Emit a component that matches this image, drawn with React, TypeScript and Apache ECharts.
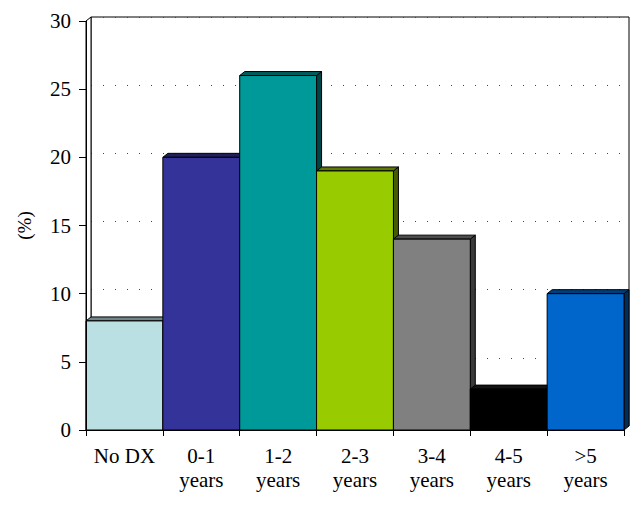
import React, { useEffect, useRef } from "react";
import * as echarts from "echarts";

const categories = ["No DX", "0-1\nyears", "1-2\nyears", "2-3\nyears", "3-4\nyears", "4-5\nyears", ">5\nyears"];
const values = [8, 20, 26, 19, 14, 3, 10];
const barColors = ["#BBE0E3", "#333399", "#009999", "#99CC00", "#808080", "#000000", "#0066CC"];
const yTicks = [0, 5, 10, 15, 20, 25, 30];

const DX = 5;
const DY = 4;

function shade(hex: string, f: number): string {
  const n = parseInt(hex.slice(1), 16);
  const r = Math.round(((n >> 16) & 255) * f);
  const g = Math.round(((n >> 8) & 255) * f);
  const b = Math.round((n & 255) * f);
  return `rgb(${r},${g},${b})`;
}

export default function App() {
  const ref = useRef<HTMLDivElement>(null);
  useEffect(() => {
    if (!ref.current) return;
    const chart = echarts.init(ref.current, undefined, { renderer: "svg" });
    const font = "serif";
    const option: any = {
      animation: false,
      backgroundColor: "#ffffff",
      textStyle: { fontFamily: font },
      grid: [
        { left: 86, top: 21, width: 538, height: 409, containLabel: false },
        { left: 86 + DX, top: 21 - DY, width: 538, height: 409, show: true, borderColor: "#000", borderWidth: 1, backgroundColor: "transparent" },
      ],
      xAxis: [
        {
          type: "category",
          gridIndex: 0,
          data: categories,
          boundaryGap: true,
          axisLine: { show: true, lineStyle: { color: "#000", width: 1 } },
          axisTick: { show: true, length: 6, lineStyle: { color: "#000" } },
          axisLabel: { color: "#000", fontSize: 21, lineHeight: 24, margin: 14, fontFamily: font, interval: 0 },
          splitLine: { show: false },
          z: 5,
        },
        {
          type: "category",
          gridIndex: 1,
          data: categories,
          show: false,
        },
      ],
      yAxis: [
        {
          type: "value",
          gridIndex: 0,
          min: 0,
          max: 30,
          interval: 5,
          name: "(%)",
          nameLocation: "middle",
          nameGap: 52,
          nameRotate: 90,
          nameTextStyle: { color: "#000", fontSize: 19, fontFamily: font },
          axisLine: { show: true, lineStyle: { color: "#000", width: 1 } },
          axisTick: { show: true, length: 7, lineStyle: { color: "#000" } },
          axisLabel: { color: "#000", fontSize: 21, margin: 15, fontFamily: font, formatter: (v: number) => (yTicks.includes(v) ? String(v) : "") },
          splitLine: { show: false },
          z: 5,
        },
        {
          type: "value",
          gridIndex: 1,
          min: 0,
          max: 30,
          interval: 5,
          axisLine: { show: false },
          axisTick: { show: false },
          axisLabel: { show: false },
          splitLine: { show: true, lineStyle: { color: "#444", width: 1, type: [1, 11] } },
        },
      ],
      series: [
        {
          type: "custom",
          xAxisIndex: 0,
          yAxisIndex: 0,
          clip: false,
          z: 3,
          data: values.map((v, i) => [i, v]),
          renderItem: (params: any, api: any) => {
            const i = api.value(0);
            const v = api.value(1);
            const top = api.coord([i, v]);
            const base = api.coord([i, 0]);
            const w = api.size([1, 0])[0];
            const x0 = top[0] - w / 2;
            const x1 = top[0] + w / 2;
            const yT = top[1];
            const yB = base[1];
            const col = barColors[params.dataIndex];
            const dark = col === "#000000" ? "#202020" : col;
            const stroke = { stroke: "#000", lineWidth: 1 };
            const children: any[] = [];
            if (params.dataIndex === 0) {
              const yMax = api.coord([i, 30])[1];
              children.push({
                type: "polygon",
                shape: { points: [[x0, yMax], [x0 + DX, yMax - DY], [x0 + DX, yB - DY], [x0, yB]] },
                style: { fill: "#fff", ...stroke },
              });
            }
            children.push({
              type: "polygon",
              shape: { points: [[x1, yT], [x1 + DX, yT - DY], [x1 + DX, yB - DY], [x1, yB]] },
              style: { fill: shade(dark, 0.45), ...stroke },
            });
            children.push({
              type: "polygon",
              shape: { points: [[x0, yT], [x0 + DX, yT - DY], [x1 + DX, yT - DY], [x1, yT]] },
              style: { fill: shade(dark, 0.6), ...stroke },
            });
            children.push({
              type: "rect",
              shape: { x: x0, y: yT, width: w, height: yB - yT },
              style: { fill: col, ...stroke },
            });
            return { type: "group", children };
          },
        },
      ],
    };
    chart.setOption(option);
    return () => chart.dispose();
  }, []);
  return <div ref={ref} style={{ position: "fixed", left: 0, top: 0, width: 644, height: 505 }} />;
}
